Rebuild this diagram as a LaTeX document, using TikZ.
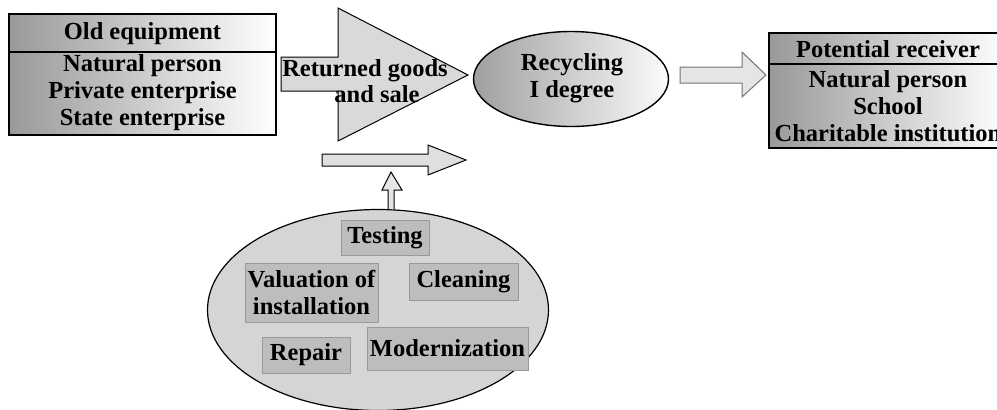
\documentclass[tikz,border=0pt]{standalone}
\usepackage{fontspec}
\setmainfont{Liberation Serif}
\usepackage{tikz}
\usetikzlibrary{shapes.geometric}

\tikzset{
  cellbox/.style={draw,line width=1.4pt,left color=gray!80,right color=white,inner sep=0pt},
  lbl/.style={font=\fontsize{24.5}{27}\selectfont\bfseries,align=center,inner sep=0pt},
  blockarr/.style={draw,line width=1pt,fill=gray!30,line join=miter},
  taskbox/.style={draw=gray!80,line width=0.8pt,fill=gray!52,inner sep=0pt,font=\fontsize{24.5}{27}\selectfont\bfseries,align=center}
}

\begin{document}
\begin{tikzpicture}[x=1pt,y=-1pt]
  \useasboundingbox (0,0) rectangle (997,410);
  % sender box
  \node[cellbox,minimum width=267pt,minimum height=38pt] (oldhead) at (142.5,33) {};
  \node[cellbox,minimum width=267pt,minimum height=83pt] (oldbody) at (142.5,93.5) {};
  \node[lbl] at (142.5,34) {Old equipment};
  \node[lbl] at (142.5,93) {Natural person\\Private enterprise\\State enterprise};
  % returned goods
  \draw[blockarr] (281,57)--(338,57)--(338,8)--(468,75)--(338,141)--(338,91)--(281,91)--cycle;
  \node[lbl] (retA) at (365,71) {Returned goods};
  \node[lbl] (retB) at (377,94) {and sale};
  % recycling
  \node[draw,line width=1.4pt,ellipse,left color=gray!75,right color=gray!3,minimum width=195pt,minimum height=95pt] (recyc) at (571,79) {};
  \node[lbl] at (572,78) {Recycling\\I degree};
  \draw[blockarr,draw=gray!90!black,fill=gray!20] (680,67)--(742,67)--(742,52)--(766,75)--(742,97)--(742,83)--(680,83)--cycle;
  % receiver box
  \node[cellbox,minimum width=238pt,minimum height=31pt] (recvhead) at (888,48.5) {};
  \node[cellbox,minimum width=238pt,minimum height=84pt] (recvbody) at (888,106) {};
  \node[lbl] at (888,49) {Potential receiver};
  \node[lbl] at (888,106) {Natural person\\School\\Charitable institution};
  % lower arrows
  \draw[blockarr,fill=gray!25] (322,154)--(428,154)--(428,145)--(466,160)--(428,175)--(428,166)--(322,166)--cycle;
  % preparation
  \node[draw,line width=1.2pt,ellipse,fill=gray!33,minimum width=341pt,minimum height=201pt] (prep) at (378,310) {};
  \draw[blockarr,fill=gray!20] (388,209)--(388,190)--(382,190)--(391,172)--(402,190)--(394,190)--(394,209);
  \node[taskbox,minimum width=88pt,minimum height=35pt] (test) at (385,237.5) {Testing};
  \node[taskbox,minimum width=133pt,minimum height=59pt] (valu) at (311.5,292.5) {Valuation of\\installation};
  \node[taskbox,minimum width=109pt,minimum height=37pt] (clean) at (463.5,281.5) {Cleaning};
  \node[taskbox,minimum width=88pt,minimum height=36pt] (rep) at (306,355) {Repair};
  \node[taskbox,minimum width=161pt,minimum height=43pt] (mod) at (447.5,348.5) {Modernization};
\end{tikzpicture}
\end{document}
